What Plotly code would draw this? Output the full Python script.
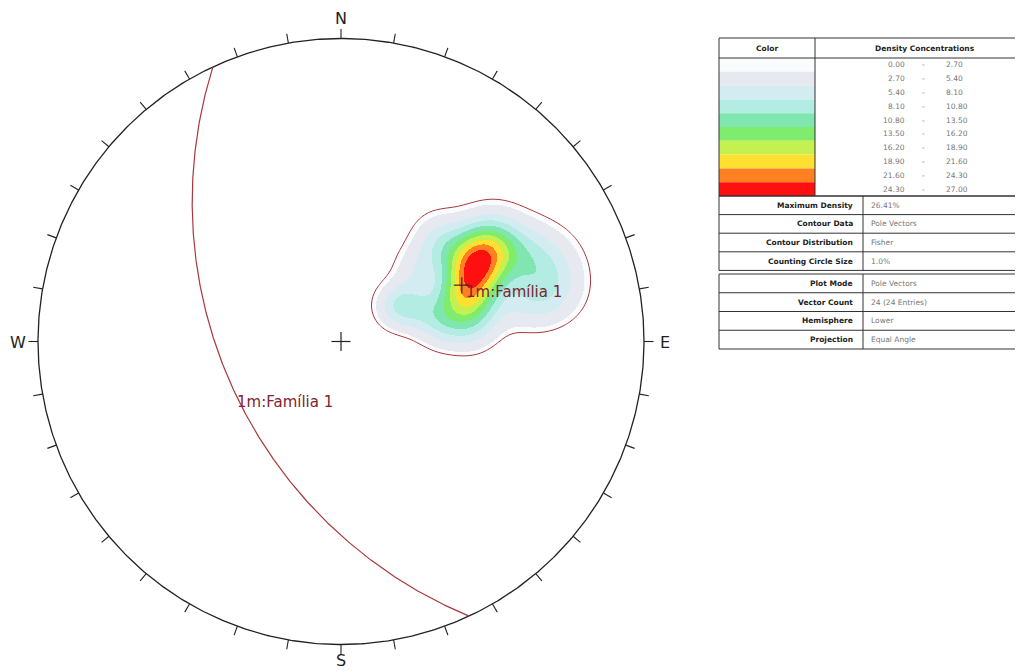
import numpy as np
import plotly.graph_objects as go

# ---------------- data ----------------
pole_trend = [58.0, 59.7, 61.3, 63.6, 66.0, 68.2, 55.8, 55.2, 51.1, 61.4, 67.6, 76.6,
              74.7, 57.9, 58.2, 68.7, 76.3, 77.5, 63.7, 70.6, 81.3, 84.0, 43.1, 46.3]
pole_plunge = [33.9, 35.1, 36.5, 38.2, 40.0, 41.7, 29.9, 27.2, 39.6, 30.2, 45.4, 38.9,
               47.0, 65.8, 62.9, 18.3, 18.7, 25.4, 22.7, 57.3, 52.8, 43.7, 39.8, 51.3]

set_name = "1m:Família 1"
set_dip_direction = 245.0
set_dip = 47.5

density_levels = [0.00, 2.70, 5.40, 8.10, 10.80, 13.50, 16.20, 18.90, 21.60, 24.30, 27.00]
level_colors = ["#FAFBFC", "#E6EAF0", "#D2ECF2", "#B2ECE2", "#80E6B0",
                "#80EC6E", "#C4F050", "#FFE030", "#FF8020", "#FF1010"]

counting_circle = 0.01  # 1.0 %

info_block1 = [("Maximum Density", "26.41%"), ("Contour Data", "Pole Vectors"),
               ("Contour Distribution", "Fisher"), ("Counting Circle Size", "1.0%")]
info_block2 = [("Plot Mode", "Pole Vectors"), ("Vector Count", "24 (24 Entries)"),
               ("Hemisphere", "Lower"), ("Projection", "Equal Angle")]

compass = [("N", 0), ("E", 90), ("S", 180), ("W", 270)]

# ---------------- geometry ----------------
OFF = 8                      # page body margin of the browser
W, H = 1023 - OFF, 671 - OFF  # figure size
CX, CY, RPX = 341.0 - OFF, 341.5 - OFF, 303.0
FONT = "DejaVu Sans"
K = 1.0 / counting_circle


def tp_to_vec(trend, plunge):
    t = np.radians(trend)
    p = np.radians(plunge)
    return np.cos(p) * np.cos(t), np.cos(p) * np.sin(t), np.sin(p)  # N, E, D


def vec_to_xy(n, e, d):
    return e / (1.0 + d), n / (1.0 + d)


def px(x):
    return (x - OFF) / W


def py(y):
    return 1 - (y - OFF) / H


fig = go.Figure()

# ---- density (Fisher kernel) ----
pn, pe, pd = tp_to_vec(np.array(pole_trend), np.array(pole_plunge))
gx = np.arange(340, 640, 1.0) - OFF
gy = np.arange(175, 395, 1.0) - OFF
xs = (gx - CX) / RPX
ys = (CY - gy) / RPX
XX, YY = np.meshgrid(xs, ys)
rho2 = XX ** 2 + YY ** 2
E = 2 * XX / (1 + rho2)
N = 2 * YY / (1 + rho2)
D = (1 - rho2) / (1 + rho2)
dens = np.zeros_like(XX)
for a, b, c in zip(pn, pe, pd):
    cosang = np.abs(N * a + E * b + D * c)
    dens += np.exp(K * (cosang - 1.0))
dens = dens * 100.0 / len(pole_trend) * (K * counting_circle)
thr = 1.8
zshow = np.where(dens >= thr, dens, np.nan)

cs = []
nb = len(level_colors)
for i, c in enumerate(level_colors):
    cs.append([i / nb, c])
    cs.append([(i + 1) / nb, c])

fig.add_trace(go.Heatmap(x=xs, y=ys, z=zshow, zmin=density_levels[0], zmax=density_levels[-1],
                         colorscale=cs, showscale=False, zsmooth=False, hoverinfo="skip"))
fig.add_trace(go.Contour(x=xs, y=ys, z=dens, showscale=False, hoverinfo="skip",
                         contours=dict(coloring="none", start=thr, end=thr, size=1),
                         line=dict(color="#A8383C", width=1)))

# ---- primitive circle ----
th = np.linspace(0, 2 * np.pi, 721)
fig.add_trace(go.Scatter(x=np.cos(th), y=np.sin(th), mode="lines",
                         line=dict(color="#222222", width=1.3), hoverinfo="skip"))

# ---- ticks every 10 degrees ----
tx, ty = [], []
r2 = 1 + 9.5 / RPX
for az in range(0, 360, 10):
    a = np.radians(az)
    tx += [np.sin(a), r2 * np.sin(a), None]
    ty += [np.cos(a), r2 * np.cos(a), None]
fig.add_trace(go.Scatter(x=tx, y=ty, mode="lines", line=dict(color="#222222", width=1.1),
                         hoverinfo="skip"))

# ---- great circle of the set ----
dd = np.radians(set_dip_direction)
dp = np.radians(set_dip)
st = dd - np.pi / 2
sv = np.array([np.cos(st), np.sin(st), 0.0])
dv = np.array([np.cos(dp) * np.cos(dd), np.cos(dp) * np.sin(dd), np.sin(dp)])
aa = np.radians(np.linspace(0, 180, 361))
vv = np.outer(np.cos(aa), sv) + np.outer(np.sin(aa), dv)
gcx, gcy = vec_to_xy(vv[:, 0], vv[:, 1], np.clip(vv[:, 2], 0, None))
fig.add_trace(go.Scatter(x=gcx, y=gcy, mode="lines", line=dict(color="#A8383C", width=1.2),
                         hoverinfo="skip"))

# ---- pole of the set ----
pole_t = (set_dip_direction + 180) % 360
pole_p = 90 - set_dip
ppx, ppy = vec_to_xy(*tp_to_vec(pole_t, pole_p))
arm = 8 / RPX
fig.add_trace(go.Scatter(x=[ppx - arm, ppx + arm, None, ppx, ppx],
                         y=[ppy, ppy, None, ppy - arm, ppy + arm], mode="lines",
                         line=dict(color="#222222", width=1.1), hoverinfo="skip"))
# centre cross
carm = 9.5 / RPX
fig.add_trace(go.Scatter(x=[-carm, carm, None, 0, 0], y=[0, 0, None, -carm, carm], mode="lines",
                         line=dict(color="#222222", width=1.2), hoverinfo="skip"))

annotations = []
annotations.append(dict(x=ppx, y=ppy, xref="x", yref="y", text=set_name, showarrow=False,
                        xanchor="left", yanchor="middle", xshift=2, yshift=-7,
                        font=dict(family=FONT, size=15, color="#802430")))
mid_x, mid_y = vv[180, 1] / (1 + vv[180, 2]), vv[180, 0] / (1 + vv[180, 2])
annotations.append(dict(x=mid_x, y=mid_y, xref="x", yref="y", text=set_name, showarrow=False,
                        xanchor="left", yanchor="middle", xshift=1, yshift=-11,
                        font=dict(family=FONT, size=15, color="#802430")))

# compass letters
for lab, az in compass:
    a = np.radians(az)
    off = 1 + (20.5 if lab != "S" else 15.0) / RPX
    annotations.append(dict(x=off * np.sin(a), y=off * np.cos(a), xref="x", yref="y", text=lab,
                            showarrow=False, xanchor="center", yanchor="middle", height=16,
                            font=dict(family=FONT, size=16, color="#222222")))

# ---------------- table ----------------
shapes = []
LC = "#333333"


def hline(x0, x1, y):
    shapes.append(dict(type="line", xref="paper", yref="paper", x0=px(x0), x1=px(x1),
                       y0=py(y), y1=py(y), line=dict(color=LC, width=1)))


def vline(x, y0, y1):
    shapes.append(dict(type="line", xref="paper", yref="paper", x0=px(x), x1=px(x),
                       y0=py(y0), y1=py(y1), line=dict(color=LC, width=1)))


def text(x, y, s, anchor="center", bold=False, color="#222222", size=7.5):
    annotations.append(dict(x=px(x), y=py(y), xref="paper", yref="paper",
                            text=("<b>%s</b>" % s) if bold else s, showarrow=False,
                            xanchor=anchor, yanchor="middle",
                            font=dict(family=FONT, size=size, color=color)))


TL, TR = 719, 1021.5
T0, THDR = 38, 58
ROWH = 13.8
T1 = THDR + ROWH * len(level_colors)
for i, c in enumerate(level_colors):
    y0 = THDR + ROWH * i
    shapes.append(dict(type="rect", xref="paper", yref="paper", x0=px(TL), x1=px(815),
                       y0=py(y0 + ROWH), y1=py(y0), fillcolor=c, line=dict(width=0)))
    yc = y0 + ROWH / 2
    text(907, yc, "%.2f" % density_levels[i], anchor="right", color="#777777")
    text(923, yc, "-", color="#777777")
    text(944, yc, "%.2f" % density_levels[i + 1], anchor="left", color="#777777")
hline(TL, TR, T0)
hline(TL, TR, THDR)
hline(TL, TR, T1)
vline(TL, T0, T1)
vline(TR, T0, T1)
vline(815, T0, T1)
text(767, 48, "Color", bold=True)
text(925, 48, "Density Concentrations", bold=True)


def info_block(top, rows, rh):
    bottom = top + rh * len(rows)
    hline(TL, TR, top)
    hline(TL, TR, bottom)
    vline(TL, top, bottom)
    vline(TR, top, bottom)
    vline(863, top, bottom)
    for i, (k, v) in enumerate(rows):
        yc = top + rh * (i + 0.5)
        if i > 0:
            hline(TL, TR, top + rh * i)
        text(855, yc, k, anchor="right", bold=True)
        text(869, yc, v, anchor="left", color="#777777")


info_block(T1, info_block1, 18.6)
info_block(274, info_block2, 18.75)

xr = [(0 - CX) / RPX, (W - CX) / RPX]
yr = [(CY - H) / RPX, CY / RPX]

fig.update_layout(width=W, height=H, margin=dict(l=0, r=0, t=0, b=0),
                  paper_bgcolor="white", plot_bgcolor="white", showlegend=False,
                  shapes=shapes, annotations=annotations,
                  xaxis=dict(range=xr, visible=False, domain=[0, 1], fixedrange=True),
                  yaxis=dict(range=yr, visible=False, domain=[0, 1], fixedrange=True))

fig.write_html("out.html")
